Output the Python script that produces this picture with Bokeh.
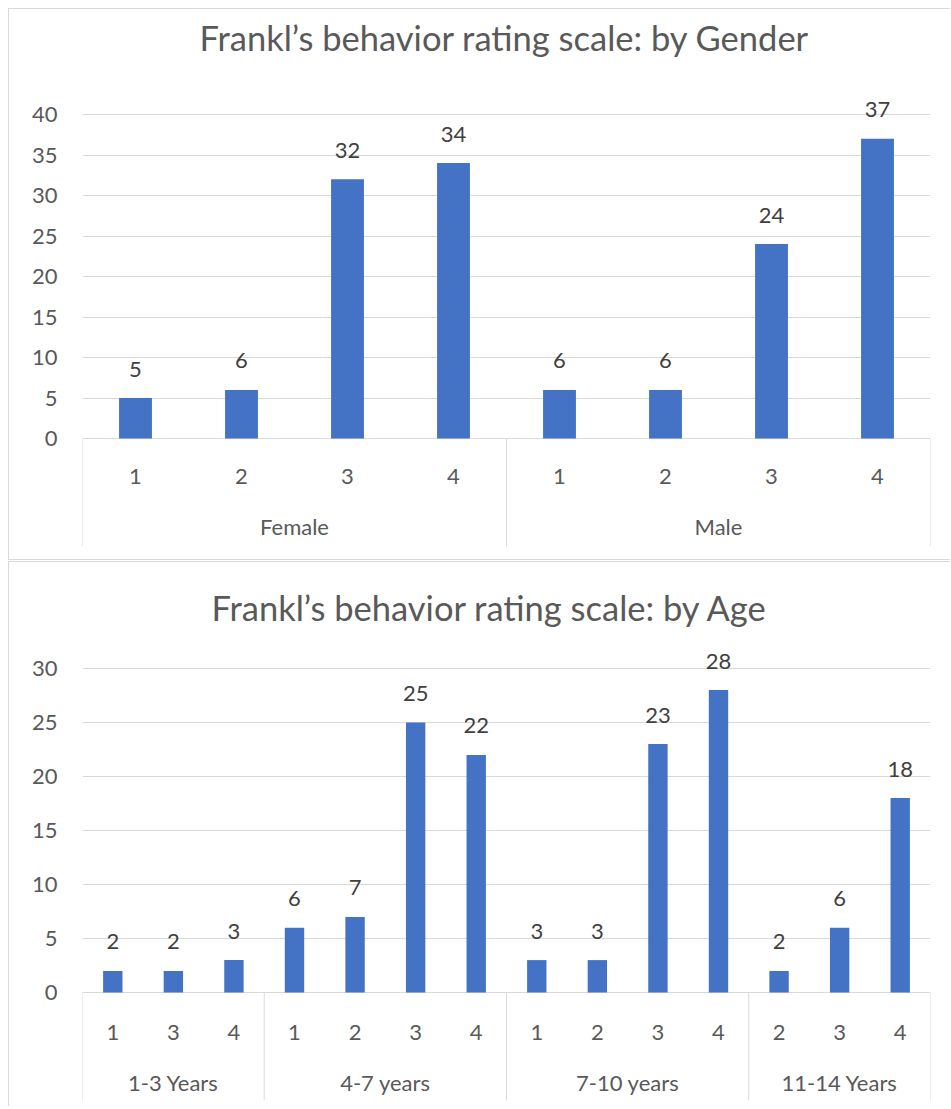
from bokeh.plotting import figure
from bokeh.models import FactorRange, Range1d, FixedTicker, ColumnDataSource
from bokeh.layouts import column
from bokeh.embed import file_html
from bokeh.resources import INLINE
from bokeh.core.properties import value

# Frankl's behavior rating counts, grouped by gender
gender_groups = ["Female", "Male"]
gender_ratings = [["1", "2", "3", "4"], ["1", "2", "3", "4"]]
gender_counts = [[5, 6, 32, 34], [6, 6, 24, 37]]
gender_ticks = [0, 5, 10, 15, 20, 25, 30, 35, 40]

# Frankl's behavior rating counts, grouped by age band
age_groups = ["1-3 Years", "4-7 years", "7-10 years", "11-14 Years"]
age_ratings = [["1", "3", "4"], ["1", "2", "3", "4"], ["1", "2", "3", "4"], ["2", "3", "4"]]
age_counts = [[2, 2, 3], [6, 7, 25, 22], [3, 3, 23, 28], [2, 6, 18]]
age_ticks = [0, 5, 10, 15, 20, 25, 30]

FONT = "Lato"
TEXT = "#595959"
LABEL = "#404040"
GRID = "#d9d9d9"
BAR = "#4472c4"
BORDER = "1px solid #d9d9d9"


def build(title, groups, ratings, counts, ticks, height, border_top, border_bottom,
          zero_y, ppu, bar_width, margin, styles,
          title_standoff, title_offset, rating_offset, group_offset):
    factors = [(g, r) for g, rs in zip(groups, ratings) for r in rs]
    vals = [v for cs in counts for v in cs]

    # value range chosen so the baseline sits zero_y px below the canvas top
    y_end = (zero_y - border_top) / ppu
    y_start = -(height - border_bottom - zero_y) / ppu

    p = figure(
        x_range=FactorRange(*factors, factor_padding=0, group_padding=0,
                            subgroup_padding=0, range_padding=0),
        y_range=Range1d(y_start, y_end),
        width=942, height=height,
        min_border_left=73, min_border_right=21,
        min_border_top=border_top, min_border_bottom=border_bottom,
        x_axis_location=None, output_backend="svg", toolbar_location=None,
        title=title, margin=margin, styles=styles,
    )

    p.outline_line_color = None
    p.background_fill_color = "white"
    p.border_fill_color = "white"

    p.title.align = "left"
    p.title.offset = title_offset
    p.title.text_font = FONT
    p.title.text_font_size = "34.5px"
    p.title.text_font_style = "normal"
    p.title.text_color = TEXT
    p.title.standoff = title_standoff

    p.xgrid.visible = False
    p.ygrid.ticker = FixedTicker(ticks=ticks)
    p.ygrid.grid_line_color = GRID
    p.ygrid.grid_line_width = 1

    ax = p.yaxis[0]
    ax.ticker = FixedTicker(ticks=ticks)
    ax.axis_line_color = None
    ax.major_tick_line_color = None
    ax.minor_tick_line_color = None
    ax.major_tick_out = 0
    ax.major_label_standoff = 25
    ax.major_label_text_font = FONT
    ax.major_label_text_font_size = "22px"
    ax.major_label_text_color = TEXT

    src = ColumnDataSource(dict(x=factors, top=vals,
                                label=[str(v) for v in vals],
                                rating=[f[1] for f in factors],
                                zero=[0] * len(vals)))

    p.vbar(x="x", top="top", width=bar_width, source=src,
           fill_color=BAR, line_color=None)

    # value labels above each bar
    p.text(x="x", y="top", text="label", source=src, y_offset=-29,
           text_align="center", text_baseline="alphabetic",
           text_font=value(FONT), text_font_size="22px", text_color=LABEL)

    # rating row of the two-level category axis
    p.text(x="x", y="zero", text="rating", source=src, y_offset=rating_offset,
           text_align="center", text_baseline="alphabetic",
           text_font=value(FONT), text_font_size="22px", text_color=TEXT)

    # group row of the category axis
    gsrc = ColumnDataSource(dict(x=groups, zero=[0] * len(groups)))
    p.text(x="x", y="zero", text="x", source=gsrc, y_offset=group_offset,
           text_align="center", text_baseline="alphabetic",
           text_font=value(FONT), text_font_size="22px", text_color=TEXT)

    # separators between groups, running down from the baseline
    bounds = [0]
    for rs in ratings:
        bounds.append(bounds[-1] + len(rs))
    sep_end = -108 / ppu
    p.segment(x0=bounds, y0=[0] * len(bounds), x1=bounds, y1=[sep_end] * len(bounds),
              line_color=GRID, line_width=1)
    return p


p1 = build("Frankl\u2019s behavior rating scale: by Gender",
           gender_groups, gender_ratings, gender_counts, gender_ticks,
           height=552, border_top=51, border_bottom=11, zero_y=429, ppu=8.1,
           bar_width=0.31, margin=(8, 0, 0, 8),
           styles={"border-left": BORDER, "border-top": BORDER, "border-bottom": BORDER},
           title_standoff=6, title_offset=117, rating_offset=38, group_offset=88)

p2 = build("Frankl\u2019s behavior rating scale: by Age",
           age_groups, age_ratings, age_counts, age_ticks,
           height=545, border_top=68, border_bottom=4, zero_y=430, ppu=10.8,
           bar_width=0.32, margin=(1, 0, 0, 8),
           styles={"border-left": BORDER, "border-top": BORDER},
           title_standoff=6, title_offset=129, rating_offset=40, group_offset=90)

layout = column(p1, p2, spacing=0)
open("out.html", "w").write(file_html(layout, INLINE))
